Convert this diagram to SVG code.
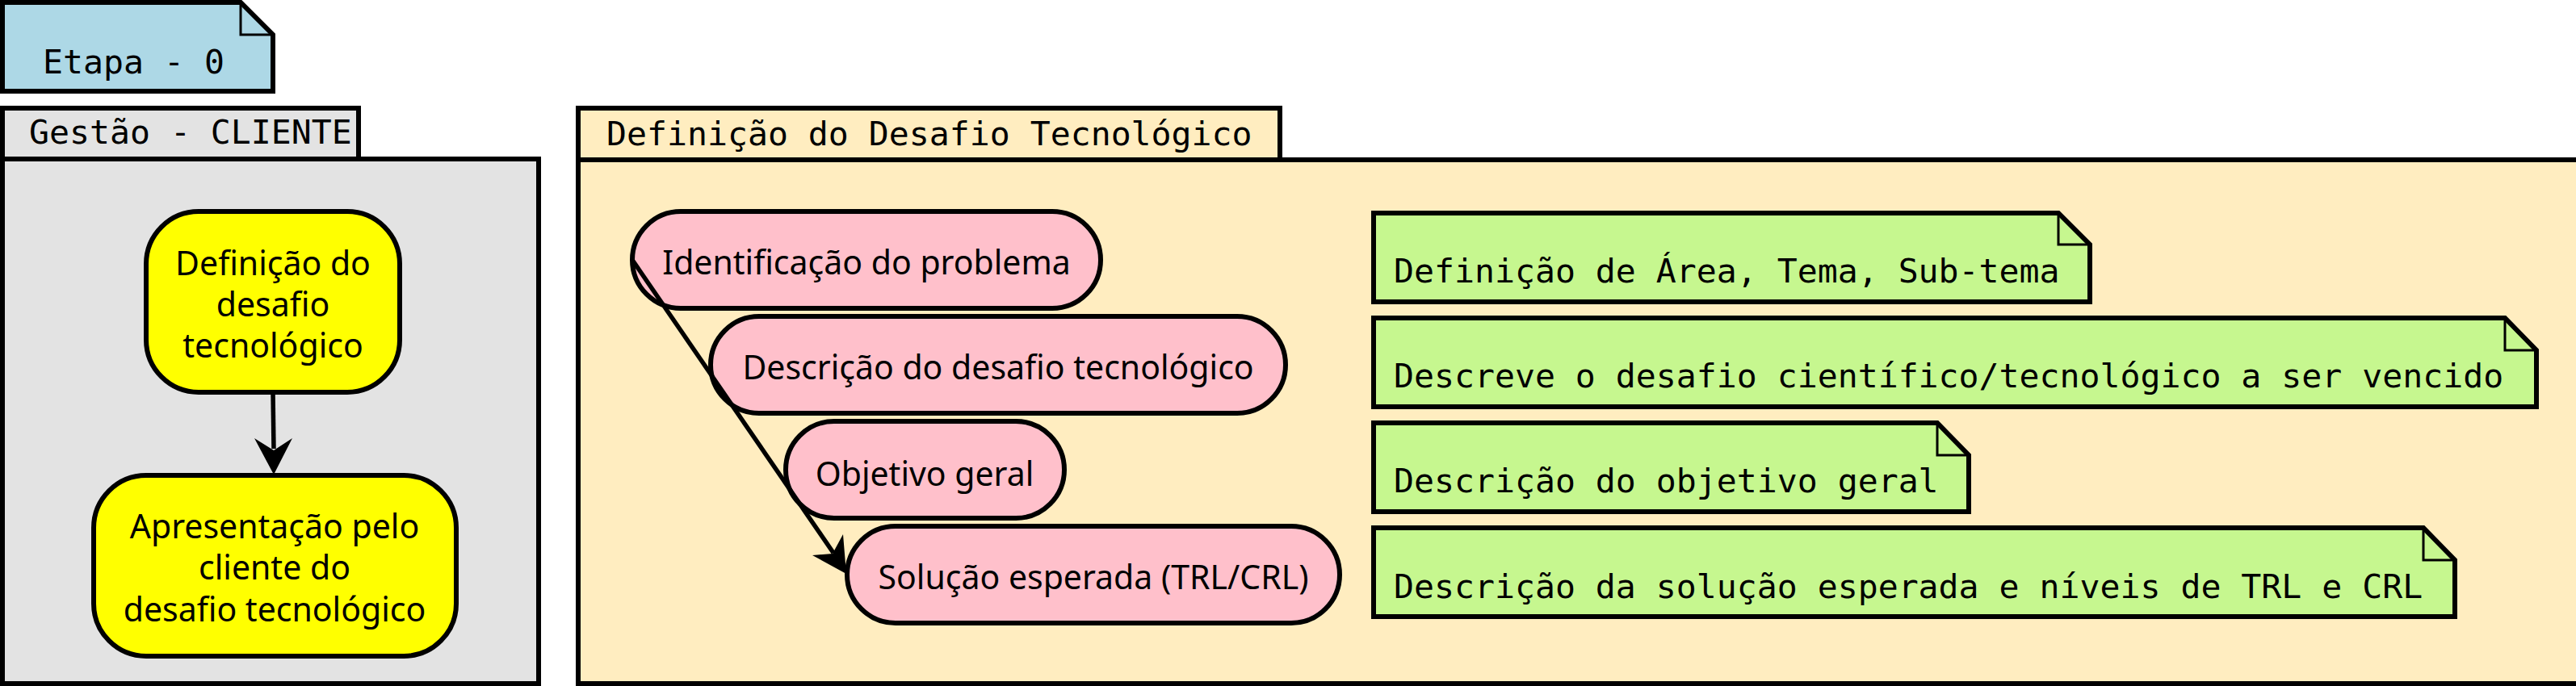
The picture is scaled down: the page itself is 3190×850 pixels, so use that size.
<svg xmlns="http://www.w3.org/2000/svg" width="3190" height="850" viewBox="0 0 3190 850">
<style>
.mono{font-family:"DejaVu Sans Mono","Liberation Mono",monospace;font-size:41.5px;fill:#000}
.sans{font-family:"Noto Sans","Open Sans",sans-serif;font-size:41px;fill:#000;text-anchor:middle}
.frame{stroke:#000;stroke-width:6}
.act{fill:#FFFF00;stroke:#000;stroke-width:6}
.pill{fill:#FFC0CB;stroke:#000;stroke-width:6}
.note{fill:#C6F78F;stroke:#000;stroke-width:6;stroke-linejoin:miter}
.fold{fill:none;stroke:#000;stroke-width:3}
.edge{stroke:#000;stroke-width:5.5;fill:none}
.head{fill:#000;stroke:none}
</style>
<rect width="3190" height="850" fill="#FFFFFF"/>
<g id="etapa">
<path d="M3,3 H298 L338,43 V113 H3 Z" fill="#ADD8E6" class="frame"/>
<path d="M298,3 V43 H338" class="fold"/>
<text class="mono" x="53" y="91">Etapa - 0</text>
</g>
<g id="gestao-cliente">
<rect x="3" y="134" width="441" height="63" fill="#E3E3E3" class="frame"/>
<rect x="3" y="197" width="664" height="650" fill="#E3E3E3" class="frame"/>
<text class="mono" x="36" y="178">Gestão - CLIENTE</text>
</g>
<g id="definicao-desafio">
<rect x="716" y="134" width="869" height="64" fill="#FFEDC0" class="frame"/>
<rect x="716" y="198" width="2480" height="649" fill="#FFEDC0" class="frame"/>
<text class="mono" x="751" y="180">Definição do Desafio Tecnológico</text>
</g>
<g id="node-definicao">
<rect x="181" y="262" width="314" height="224" rx="65" class="act"/>
<text class="sans" x="338" y="341">Definição do</text>
<text class="sans" x="338" y="392">desafio</text>
<text class="sans" x="338" y="443">tecnológico</text>
</g>
<g id="node-apresentacao">
<rect x="116" y="589" width="449" height="224" rx="65" class="act"/>
<text class="sans" x="340" y="667">Apresentação pelo</text>
<text class="sans" x="340" y="718">cliente do</text>
<text class="sans" x="340" y="770">desafio tecnológico</text>
</g>
<g id="pill-identificacao">
<rect x="783" y="262" width="580" height="120" rx="60" class="pill"/>
<text class="sans" x="1073" y="340">Identificação do problema</text>
</g>
<g id="pill-descricao">
<rect x="880" y="392" width="712" height="120" rx="60" class="pill"/>
<text class="sans" x="1236" y="470">Descrição do desafio tecnológico</text>
</g>
<g id="pill-objetivo">
<rect x="973" y="522" width="345" height="120" rx="60" class="pill"/>
<text class="sans" x="1145" y="602">Objetivo geral</text>
</g>
<g id="pill-solucao">
<rect x="1049" y="652" width="610" height="120" rx="60" class="pill"/>
<text class="sans" x="1354" y="730">Solução esperada (TRL/CRL)</text>
</g>
<g id="note-area">
<path d="M1701,264 H2549 L2588,303 V374 H1701 Z" class="note"/>
<path d="M2549,264 V303 H2588" class="fold"/>
<text class="mono" x="1726" y="350">Definição de Área, Tema, Sub-tema</text>
</g>
<g id="note-desafio">
<path d="M1701,394 H3102 L3141,434 V504 H1701 Z" class="note"/>
<path d="M3102,394 V434 H3141" class="fold"/>
<text class="mono" x="1726" y="480">Descreve o desafio científico/tecnológico a ser vencido</text>
</g>
<g id="note-objetivo">
<path d="M1701,524 H2399 L2438,564 V634 H1701 Z" class="note"/>
<path d="M2399,524 V564 H2438" class="fold"/>
<text class="mono" x="1726" y="610">Descrição do objetivo geral</text>
</g>
<g id="note-solucao">
<path d="M1701,654 H3001 L3040,694 V764 H1701 Z" class="note"/>
<path d="M3001,654 V694 H3040" class="fold"/>
<text class="mono" x="1726" y="741">Descrição da solução esperada e níveis de TRL e CRL</text>
</g>
<g id="connectors">
<line x1="338" y1="486" x2="339" y2="556" class="edge"/>
<polygon points="339,588 315,543 339,558 362,543" class="head"/>
<line x1="783" y1="322" x2="1032" y2="685" class="edge"/>
<polygon points="1048,711 1006,688 1031,686 1044,662" class="head"/>
</g>
</svg>
